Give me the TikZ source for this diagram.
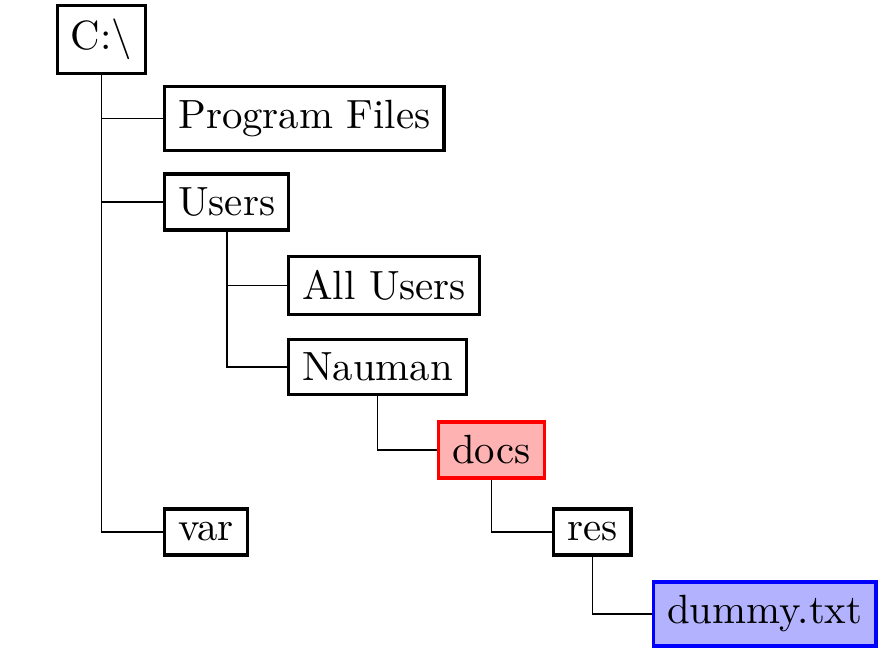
\documentclass[tikz,border=0pt]{standalone}
\usepackage{tikz}
\usetikzlibrary{positioning}
\tikzset{
  dirbox/.style={draw,thick,anchor=west},
  selbox/.style={dirbox,draw=red,fill=red!30},
  filebox/.style={dirbox,draw=blue,fill=blue!30},
  branch/.style={thin}
}
\begin{document}
\begin{tikzpicture}[x=0.245pt,y=-0.245pt]
\useasboundingbox (0,0) rectangle (880,649);
\node [draw,thick] (root) at (101.5,39.5) {C:\textbackslash};
\node [dirbox] (prog) at (163,118.5) {Program Files};
\node [dirbox] (users) at (163,202) {Users};
\node [dirbox] (allusers) at (287,285.5) {All Users};
\node [dirbox] (nauman) at (287,367) {Nauman};
\node [selbox] (docs) at (437,450) {docs};
\node [dirbox] (var) at (163,532) {var};
\node [dirbox] (res) at (552,532) {res};
\node [filebox] (dummy) at (652,614) {dummy.txt};
% edges
\foreach \child in {prog,users,var}{
    \draw [branch] (root.south) |- (\child.west);
}
\foreach \child in {allusers,nauman}{
    \draw [branch] (users.south) |- (\child.west);
}
\draw [branch] (nauman.south) |- (docs.west);
\draw [branch] (docs.south) |- (res.west);
\draw [branch] (res.south) |- (dummy.west);
\end{tikzpicture}
\end{document}
